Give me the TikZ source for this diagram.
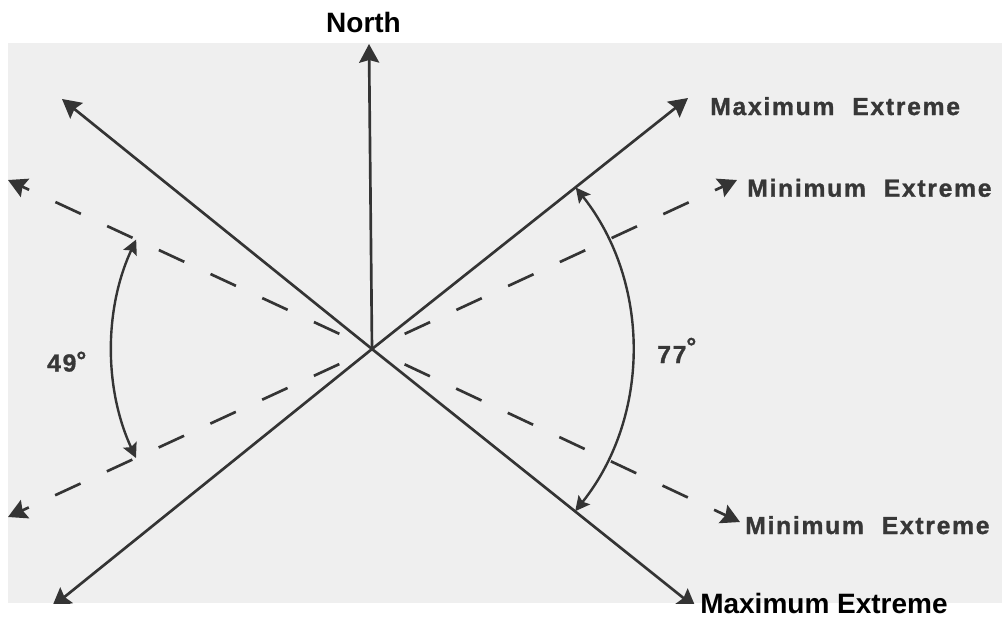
\documentclass[tikz,border=0pt]{standalone}
\usepackage{fontspec}
\setmainfont{Liberation Sans}
\newfontfamily\scanfont[LetterSpace=7,FakeBold=1.2]{Liberation Sans Bold}
\usetikzlibrary{arrows.meta,calc}
\definecolor{scanbg}{RGB}{239,239,239}
\definecolor{ink}{RGB}{52,52,52}
\definecolor{scanink}{RGB}{55,55,55}
\tikzset{
  ray/.style={draw=ink, line width=2pt, -{Stealth[length=14pt,width=15pt,inset=2pt]}},
  dray/.style={ray, dash pattern=on 21pt off 21.75pt},
  anglearc/.style={draw=ink, line width=1.8pt,
    {Stealth[length=11pt,width=11pt,inset=2pt]}-{Stealth[length=11pt,width=11pt,inset=2pt]}},
  scanlabel/.style={text=scanink, font=\scanfont\fontsize{18.5pt}{18.5pt}\selectfont,
    anchor=base west, inner sep=0pt},
  blacklabel/.style={text=black, font=\bfseries\fontsize{21pt}{21pt}\selectfont,
    inner sep=0pt}
}
\begin{document}
\begin{tikzpicture}[x=0.75pt,y=-0.75pt]
\useasboundingbox (0,0) rectangle (1002,618);
\fill[white] (0,0) rectangle (1002,618);
\coordinate (C) at (372,349);
\coordinate (tN) at (369,44);
\coordinate (tUL) at (62,99);
\coordinate (tUR) at (688,98);
\coordinate (tLL) at (52,607);
\coordinate (tLR) at (696,608);
\coordinate (dUL) at (8,180);
\coordinate (dUR) at (737,180);
\coordinate (dLL) at (8,517);
\coordinate (dLR) at (740,522);
\begin{scope}
  \clip (8,43) rectangle (1002,603);
  \fill[scanbg] (8,43) rectangle (1002,603);
  % solid rays
  \draw[ray] (C) -- (tN);
  \draw[ray] (C) -- (tUL);
  \draw[ray] (C) -- (tUR);
  \draw[ray] (C) -- (tLL);
  \draw[ray] (C) -- (tLR);
  % dashed rays
  \draw[dray] ($(C)!27pt!(dUL)$) -- (dUL);
  \draw[dray] ($(C)!27pt!(dUR)$) -- (dUR);
  \draw[dray] ($(C)!27pt!(dLL)$) -- (dLL);
  \draw[dray] ($(C)!27pt!(dLR)$) -- (dLR);
  % angle arcs
  \draw[anglearc] ($(C)+(-155.1:260)$) arc[start angle=-155.1, end angle=-204.8, radius=260];
  \draw[anglearc] ($(C)+(-38.4:260)$) arc[start angle=-38.4, end angle=38.6, radius=260];
  % labels in the scan
  \node[scanlabel] (maxT) at (710,115) {Maximum\hspace*{7pt} Extreme};
  \node[scanlabel] (minT) at (747,196.7) {Minimum\hspace*{7pt} Extreme};
  \node[scanlabel] (minB) at (745,534) {Minimum\hspace*{7pt} Extreme};
  \node[scanlabel] (a49) at (47,371.5) {49\raisebox{2pt}{°}};
  \node[scanlabel] (a77) at (657,363) {77\raisebox{6pt}{°}};
\end{scope}
\node[blacklabel, anchor=base] (north) at (363.5,32.3) {North};
\node[blacklabel, anchor=base west] (maxB) at (700,613) {Maximum Extreme};
\end{tikzpicture}
\end{document}
